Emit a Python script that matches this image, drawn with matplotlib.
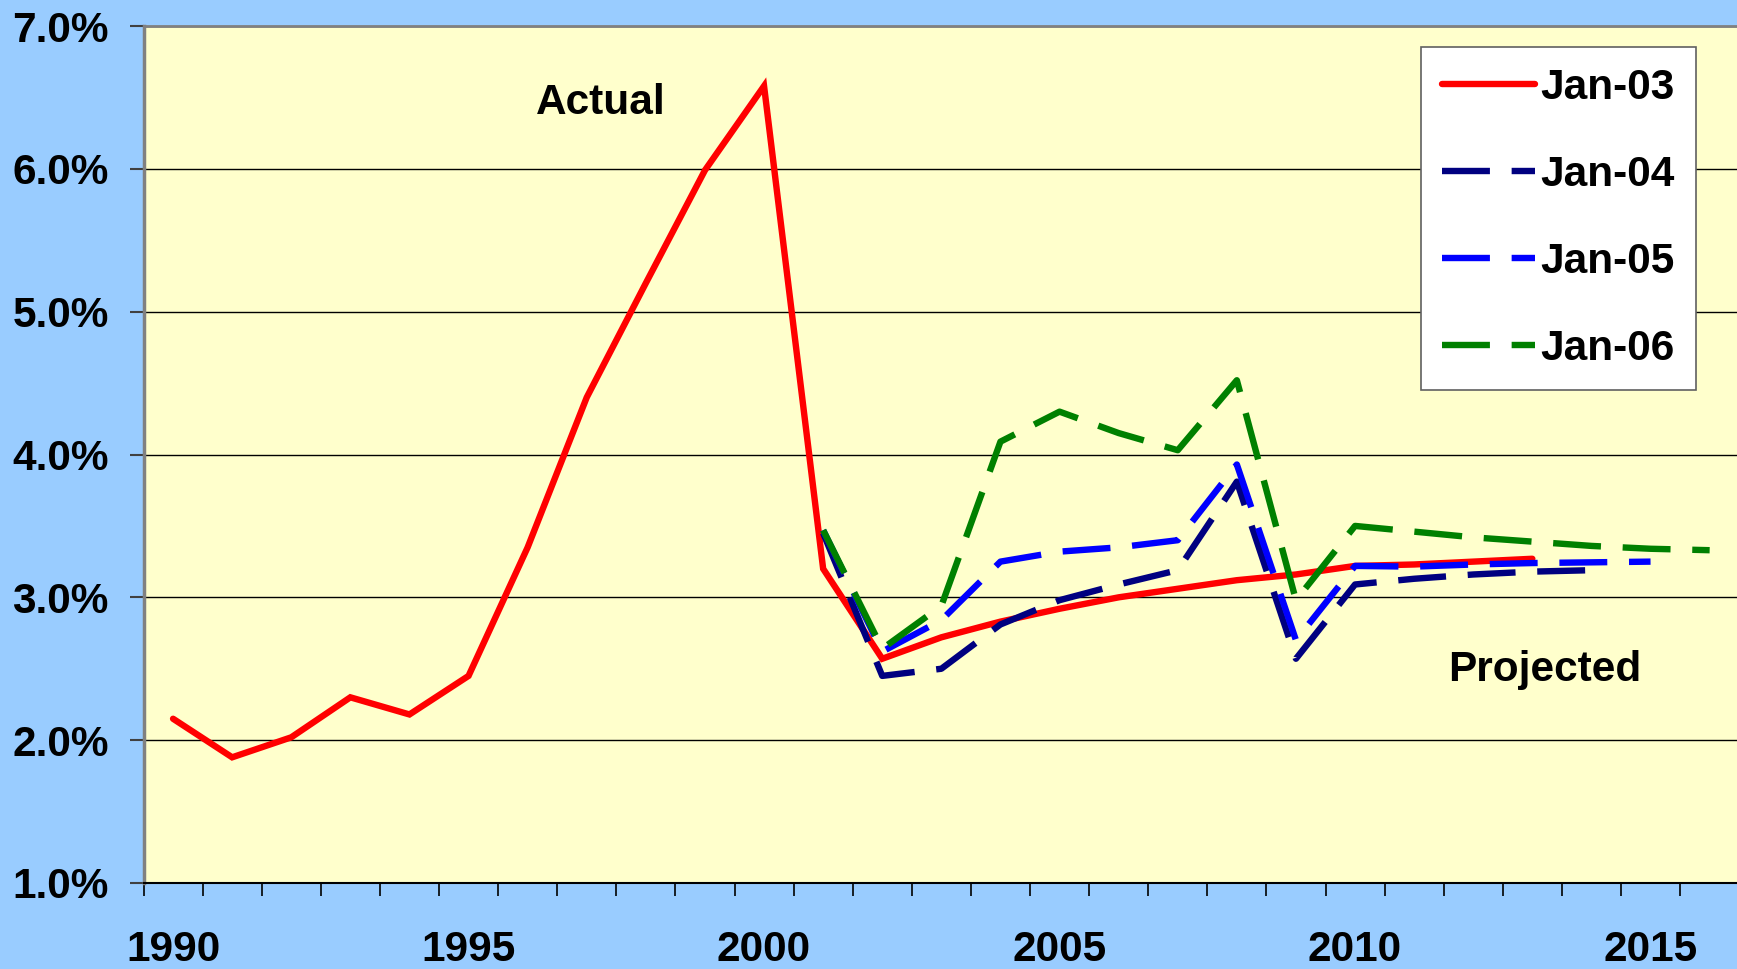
import matplotlib
matplotlib.use("Agg")
import matplotlib.pyplot as plt
from matplotlib.ticker import FixedLocator

plt.rcParams['font.family'] = ['Liberation Sans', 'DejaVu Sans']
plt.rcParams['font.weight'] = 'bold'

# ---------------- data ----------------
jan03_years = list(range(1990, 2014))
jan03_values = [2.15, 1.88, 2.02, 2.30, 2.18, 2.45, 3.35, 4.40, 5.20, 5.99, 6.58,
                3.20, 2.57, 2.72, 2.83, 2.92, 3.00, 3.06, 3.12, 3.16, 3.22, 3.23,
                3.25, 3.27]

jan04_years = list(range(2001, 2015))
jan04_values = [3.45, 2.45, 2.50, 2.81, 2.98, 3.09, 3.19, 3.81, 2.57, 3.09, 3.13,
                3.16, 3.18, 3.19]

jan05_years = list(range(2001, 2016))
jan05_values = [3.47, 2.62, 2.84, 3.25, 3.32, 3.35, 3.40, 3.93, 2.70, 3.22, 3.215,
                3.23, 3.24, 3.245, 3.25]

jan06_years = list(range(2001, 2017))
jan06_values = [3.47, 2.64, 2.94, 4.09, 4.30, 4.15, 4.03, 4.52, 2.98, 3.50, 3.46,
                3.42, 3.39, 3.36, 3.34, 3.33]

series_labels = ['Jan-03', 'Jan-04', 'Jan-05', 'Jan-06']

x_tick_years = [1990, 1995, 2000, 2005, 2010, 2015]
x_tick_labels = ['1990', '1995', '2000', '2005', '2010', '2015']
y_tick_values = [1.0, 2.0, 3.0, 4.0, 5.0, 6.0, 7.0]
y_tick_labels = ['1.0%', '2.0%', '3.0%', '4.0%', '5.0%', '6.0%', '7.0%']

# ---------------- figure ----------------
W, H = 1737, 969
fig = plt.figure(figsize=(W / 100, H / 100), dpi=100)
fig.patch.set_facecolor('#99CCFF')

left_px, top_px, bottom_px = 143.5, 26, 883
ax = fig.add_axes([left_px / W, (H - bottom_px) / H, (W - left_px) / W,
                   (bottom_px - top_px) / H])
ax.set_facecolor('#FFFFCC')

fs = 30.5
lw = 4.6
dash = (0, (7.5, 3.4))
ax.plot(jan03_years, jan03_values, color='#FF0000', lw=lw, solid_capstyle='round',
        solid_joinstyle='miter', label=series_labels[0], zorder=3)
ax.plot(jan04_years, jan04_values, color='#000080', lw=lw, linestyle=dash,
        dash_capstyle='butt', label=series_labels[1], zorder=4)
ax.plot(jan05_years, jan05_values, color='#0000FF', lw=lw, linestyle=dash,
        dash_capstyle='butt', label=series_labels[2], zorder=5)
ax.plot(jan06_years, jan06_values, color='#008000', lw=lw, linestyle=dash,
        dash_capstyle='butt', label=series_labels[3], zorder=6)

ax.set_xlim(1989.5, 1989.5 + (W - left_px) / 59.1)
ax.set_ylim(1.0, 7.0)

# y axis
ax.yaxis.set_major_locator(FixedLocator(y_tick_values))
ax.set_yticklabels(y_tick_labels)
ax.tick_params(axis='y', which='major', direction='out', length=10, width=1.5,
               color='#404040', pad=15, labelsize=fs)
ax.grid(axis='y', color='black', lw=1.0, zorder=1)

# x axis
ax.xaxis.set_major_locator(FixedLocator(x_tick_years))
ax.set_xticklabels(x_tick_labels)
ax.xaxis.set_minor_locator(FixedLocator([1989.5 + k for k in range(28)]))
ax.tick_params(axis='x', which='major', length=0, pad=34, labelsize=fs)
ax.tick_params(axis='x', which='minor', direction='out', length=9.5, width=1.2,
               color='black')

for lab in ax.get_xticklabels() + ax.get_yticklabels():
    lab.set_fontweight('bold')

ax.spines['left'].set_color('#808080')
ax.spines['left'].set_linewidth(2.5)
ax.spines['top'].set_color('#808080')
ax.spines['top'].set_linewidth(2.0)
ax.spines['bottom'].set_color('black')
ax.spines['bottom'].set_linewidth(1.5)
ax.spines['right'].set_visible(False)

# annotations
ax.text(1997.24, 6.46, 'Actual', fontsize=fs, fontweight='bold', ha='center',
        va='center', zorder=7)
ax.text(2013.21, 2.49, 'Projected', fontsize=fs, fontweight='bold', ha='center',
        va='center', zorder=7)

leg = ax.legend(loc='upper left', bbox_to_anchor=(0.8017, 0.9755),
                borderaxespad=0, fontsize=fs, handlelength=2.2,
                handletextpad=0.12, labelspacing=1.11, borderpad=0.5,
                frameon=True, fancybox=False, framealpha=1.0)
leg.get_frame().set_edgecolor('#606060')
leg.get_frame().set_linewidth(1.2)
leg.set_zorder(10)
for t in leg.get_texts():
    t.set_fontweight('bold')

fig.savefig('out.png', dpi=100, facecolor=fig.get_facecolor())
